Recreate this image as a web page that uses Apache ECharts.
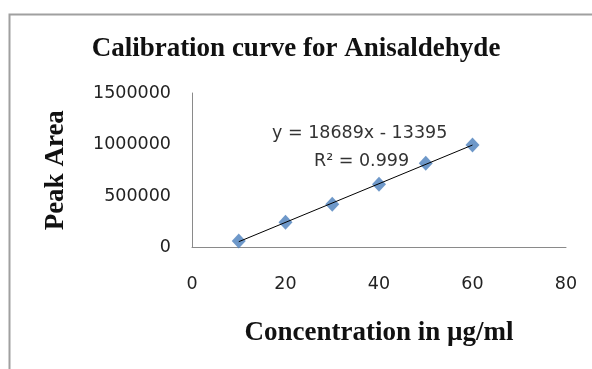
<!DOCTYPE html>
<html>
<head>
<meta charset="utf-8">
<script src="https://cdn.jsdelivr.net/npm/echarts@6/dist/echarts.min.js"></script>
<style>html,body{margin:0;padding:0;background:#fff}#c{width:592px;height:369px}</style>
</head>
<body>
<div id="c"></div>
<script>
var concentrations = [10, 20, 30, 40, 50, 60];
var peakAreas = [63000, 245000, 419000, 614000, 817000, 995000];
var xTicks = [0, 20, 40, 60, 80];
var yTicks = [0, 500000, 1000000, 1500000];
var equationText = 'y = 18689x - 13395';
var r2Text = 'R² = 0.999';

// least-squares trendline from the data
var n = concentrations.length, sx = 0, sy = 0, sxx = 0, sxy = 0;
for (var i = 0; i < n; i++) {
  sx += concentrations[i]; sy += peakAreas[i];
  sxx += concentrations[i] * concentrations[i]; sxy += concentrations[i] * peakAreas[i];
}
var slope = (n * sxy - sx * sy) / (n * sxx - sx * sx);
var intercept = (sy - slope * sx) / n;
var x0 = concentrations[0], x1 = concentrations[n - 1];
var trend = [[x0, slope * x0 + intercept], [x1, slope * x1 + intercept]];

var chart = echarts.init(document.getElementById('c'), null, {renderer: 'canvas'});
var serif = '"Liberation Serif", "DejaVu Serif", serif';
var sans = '"DejaVu Sans", sans-serif';
chart.setOption({
  animation: false,
  title: {
    text: 'Calibration curve for Anisaldehyde',
    left: 'center', top: 31,
    textStyle: {fontFamily: serif, fontWeight: 'bold', fontSize: 27, color: '#111'}
  },
  grid: {left: 192, right: 26, top: 93, bottom: 121.5},
  xAxis: {
    type: 'value', min: xTicks[0], max: xTicks[xTicks.length - 1], interval: 20,
    splitLine: {show: false},
    axisTick: {show: false},
    axisLine: {lineStyle: {color: '#8a8a8a', width: 1}},
    axisLabel: {margin: 28, fontFamily: sans, fontSize: 17.5, color: '#222', formatter: function (v) { return String(v); }},
    name: 'Concentration in µg/ml', nameLocation: 'middle', nameGap: 72,
    nameTextStyle: {fontFamily: serif, fontWeight: 'bold', fontSize: 27, color: '#111'}
  },
  yAxis: {
    type: 'value', min: yTicks[0], max: yTicks[yTicks.length - 1], interval: 500000,
    splitLine: {show: false},
    axisTick: {show: false},
    axisLine: {show: true, lineStyle: {color: '#8a8a8a', width: 1}},
    axisLabel: {margin: 21, fontFamily: sans, fontSize: 17.5, color: '#222', formatter: function (v) { return String(v); }},
    name: 'Peak Area', nameLocation: 'middle', nameGap: 122,
    nameTextStyle: {fontFamily: serif, fontWeight: 'bold', fontSize: 27, color: '#111'}
  },
  series: [
    {
      type: 'line', data: trend, symbol: 'none',
      lineStyle: {color: '#000', width: 1}, z: 3
    },
    {
      type: 'scatter', data: concentrations.map(function (c, i) { return [c, peakAreas[i]]; }),
      symbol: 'diamond', symbolSize: [14, 15],
      itemStyle: {color: '#4a7ebb'}, z: 2
    }
  ],
  graphic: [
    {type: 'rect', shape: {x: 9.5, y: 14.5, width: 700, height: 500}, style: {fill: 'none', stroke: '#a0a0a0', lineWidth: 2}, silent: true},
    {type: 'text', left: 272, top: 124, style: {text: equationText, font: '17.5px "DejaVu Sans", sans-serif', fill: '#333'}},
    {type: 'text', left: 314, top: 152, style: {text: r2Text, font: '17.5px "DejaVu Sans", sans-serif', fill: '#333'}}
  ]
});
</script>
</body>
</html>
